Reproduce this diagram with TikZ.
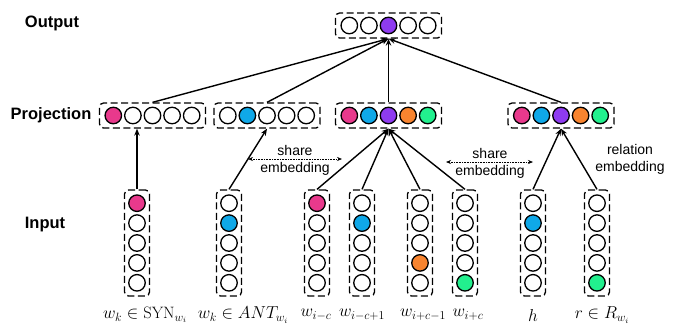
\documentclass[tikz,border=0pt]{standalone}
\usepackage{fontspec}
\setsansfont{Liberation Sans}
\usetikzlibrary{arrows.meta}
\definecolor{cpink}{HTML}{E8398C}
\definecolor{cblue}{HTML}{0FA8E8}
\definecolor{cpurple}{HTML}{8E3BF0}
\definecolor{corange}{HTML}{F8842F}
\definecolor{cgreen}{HTML}{22F08E}
\tikzset{
  cell/.style={circle, draw, line width=1.3pt, minimum size=16.5pt, inner sep=0pt},
  hbox/.style={draw, dash pattern=on 7pt off 3.5pt, rounded corners=4pt, line width=1.3pt, minimum width=106pt, minimum height=25pt, inner sep=0pt},
  vbox/.style={draw, dash pattern=on 7pt off 3.5pt, rounded corners=4pt, line width=1.3pt, minimum width=25pt, minimum height=106pt, inner sep=0pt},
  conn/.style={line width=1.4pt, -{Stealth[length=7pt,width=5.5pt]}},
  sharearrow/.style={densely dotted, line width=0.6pt, {Stealth[length=5pt,width=4pt]}-{Stealth[length=5pt,width=4pt]}},
  lab/.style={font=\sffamily\bfseries\fontsize{16.5}{18}\selectfont},
  note/.style={font=\sffamily\fontsize{14}{15}\selectfont},
  mlab/.style={font=\fontsize{16.5}{18}\selectfont},
}
\newcommand{\hrowcells}[4]{%
  \foreach \c [count=\i] in {#4} {
    \node[cell, fill=\c] (#1-\i) at ({#2+(\i-3)*19.6},#3) {};
  }
  \node[hbox] (#1) at (#2,#3) {};
}
\newcommand{\vrowcells}[4]{%
  \foreach \c [count=\i] in {#4} {
    \node[cell, fill=\c] (#1-\i) at (#2,{#3+(\i-3)*19.9}) {};
  }
  \node[vbox] (#1) at (#2,#3) {};
}
\begin{document}
\begin{tikzpicture}[x=1pt,y=-1pt]
\useasboundingbox (0,0) rectangle (674,330);
% row labels
\node[lab] (lout) at (52,23) {Output};
\node[lab] (lproj) at (51,115) {Projection};
\node[lab] (lin) at (45,225) {Input};
% output
\hrowcells{O}{388.5}{25.5}{white,white,cpurple,white,white}
% projection
\hrowcells{P1}{152.5}{115.5}{cpink,white,white,white,white}
\hrowcells{P2}{267}{115.5}{white,cblue,white,white,white}
\hrowcells{P3}{388.5}{115.5}{cpink,cblue,cpurple,corange,cgreen}
\hrowcells{P4}{561}{115.5}{cpink,cblue,cpurple,corange,cgreen}
% inputs
\vrowcells{I1}{137}{243}{cpink,white,white,white,white}
\vrowcells{I2}{229}{243}{white,cblue,white,white,white}
\vrowcells{I3}{317}{243}{cpink,white,white,white,white}
\vrowcells{I4}{362}{243}{white,cblue,white,white,white}
\vrowcells{I5}{420}{243}{white,white,white,corange,white}
\vrowcells{I6}{465}{243}{white,white,white,white,cgreen}
\vrowcells{I7}{533}{243}{white,cblue,white,white,white}
\vrowcells{I8}{597}{243}{white,white,white,white,cgreen}
% input labels
\node[mlab] (t1) at (145,315) {$w_k\in\mathrm{SYN}_{w_i}$};
\node[mlab] (t2) at (243,315) {$w_k\in ANT_{w_i}$};
\node[mlab] (t3) at (316,315) {$w_{i-c}$};
\node[mlab] (t4) at (362,315) {$w_{i-c+1}$};
\node[mlab] (t5) at (423,315) {$w_{i+c-1}$};
\node[mlab] (t6) at (468,315) {$w_{i+c}$};
\node[mlab] (t7) at (533,315) {$h$};
\node[mlab] (t8) at (602,315) {$r\in R_{w_i}$};
% connectors input -> projection
\draw[conn] (I1.north) -- (I1.north |- P1.south);
\draw[conn] (I2.north) -- (P2.south);
\draw[conn] (I3.north) -- (P3.south);
\draw[conn] (I4.north) -- (P3.south);
\draw[conn] (I5.north) -- (P3.south);
\draw[conn] (I6.north) -- (P3.south);
\draw[conn] (I7.north) -- (P4.south);
\draw[conn] (I8.north) -- (P4.south);
% projection -> output
\draw[conn] (P1.north) -- (O.south);
\draw[conn] (P2.north) -- (O.south);
\draw[conn] (P3.north) -- (O.south);
\draw[conn] (P4.north) -- (O.south);
% share embedding
\coordinate (s1a) at (248,159);
\coordinate (s1b) at (342,159);
\draw[sharearrow] (s1a) -- (s1b);
\node[note] (sh1) at (295,150) {share};
\node[note] (em1) at (295,169) {embedding};
\coordinate (s2a) at (446,162);
\coordinate (s2b) at (533,162);
\draw[sharearrow] (s2a) -- (s2b);
\node[note] (sh2) at (490,153) {share};
\node[note] (em2) at (490,172) {embedding};
\node[note] (re1) at (630,149) {relation};
\node[note] (re2) at (630,168) {embedding};
\end{tikzpicture}
\end{document}
